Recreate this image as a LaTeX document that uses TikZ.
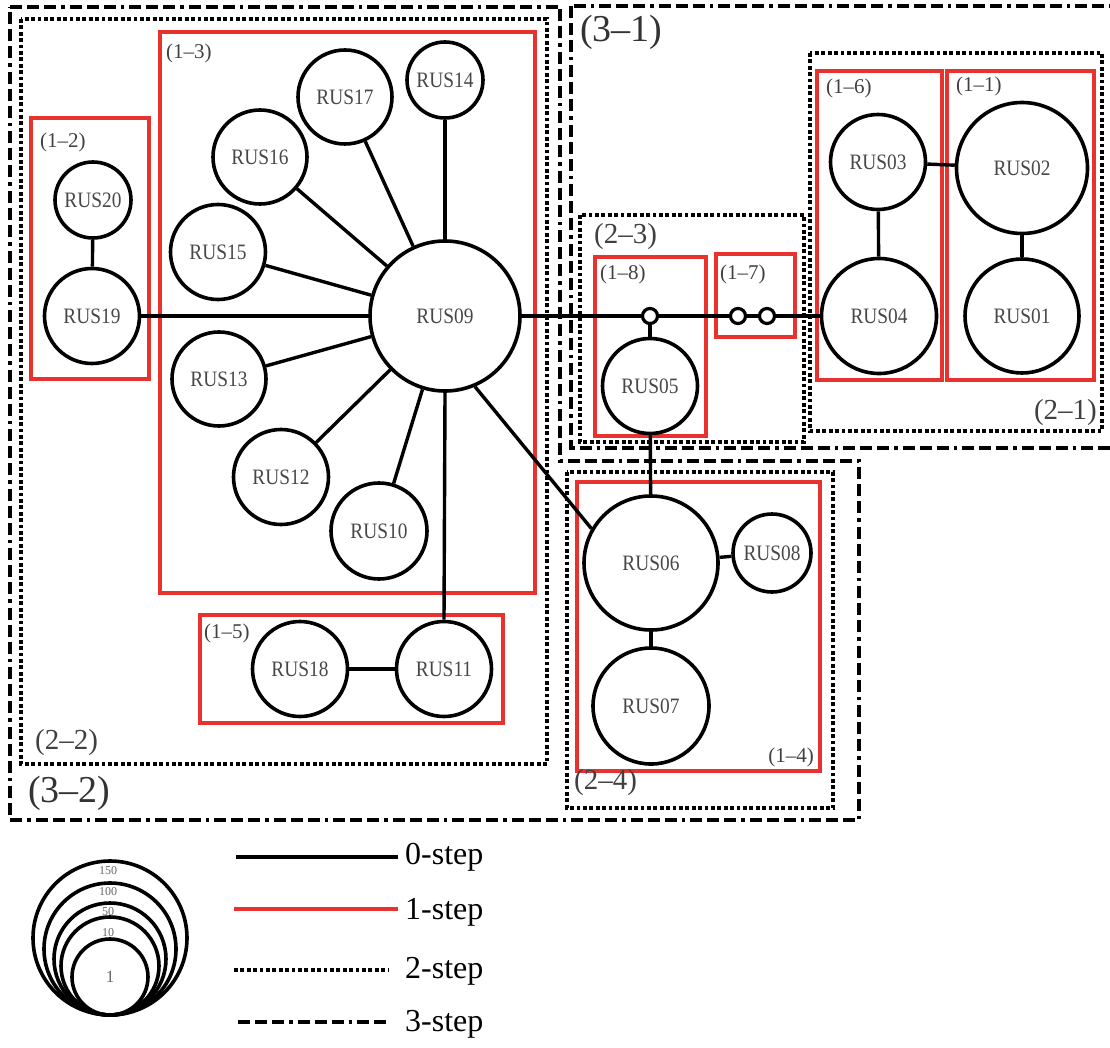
\documentclass[tikz,border=0pt]{standalone}
\usepackage{fontspec}
\setmainfont{Liberation Serif}
\newfontfamily\rusfont[FakeStretch=0.88]{Liberation Serif}
\definecolor{boxred}{RGB}{232,50,45}
\begin{document}
\begin{tikzpicture}[x=1pt,y=-1pt,
  rusnode/.style={circle,draw=black,line width=3.6pt,inner sep=0pt,text=black!72,
    font=\rusfont\fontsize{22}{22}\selectfont},
  junction/.style={circle,draw=black,line width=3.2pt,inner sep=0pt,minimum size=15pt},
  link/.style={draw=black,line width=3.4pt},
  onestep/.style={draw=boxred,line width=3.6pt},
  twostep/.style={draw=black,line width=3.3pt,dash pattern=on 3.8pt off 2.6pt},
  threestep/.style={draw=black,line width=4.4pt,dash pattern=on 12pt off 5pt on 12pt off 5pt on 12pt off 5pt on 3.5pt off 5pt},
  lblS/.style={inner sep=0pt,text=black!75,font=\fontsize{21}{21}\selectfont},
  lblM/.style={inner sep=0pt,text=black!75,font=\fontsize{29}{29}\selectfont},
  lblL/.style={inner sep=0pt,text=black!80,font=\fontsize{38}{38}\selectfont},
  legtext/.style={inner sep=0pt,anchor=west,text=black,font=\fontsize{32}{32}\selectfont},
  sizelbl/.style={inner sep=0pt,text=black!60,font=\fontsize{12}{12}\selectfont},
  legcircle/.style={draw=black,line width=3.6pt}
]
\useasboundingbox (0,0) rectangle (1110,1048);

% ---------- 3-step boxes ----------
\draw[threestep] (10,7) -- (560,7) -- (560,461) -- (859,461) -- (859,820) -- (10,820) -- cycle;
\draw[threestep] (571,6) rectangle (1118,448);
% ---------- 2-step boxes ----------
\draw[twostep] (21,19) rectangle (547,764);
\draw[twostep] (580,215) rectangle (804,442);
\draw[twostep] (810,53) rectangle (1102,431);
\draw[twostep] (567,472) rectangle (833,808);
% ---------- 1-step boxes ----------
\draw[onestep] (160,32) rectangle (535,593);
\draw[onestep] (31,118) rectangle (149,379);
\draw[onestep] (200,615) rectangle (503,723);
\draw[onestep] (595,257) rectangle (706,436);
\draw[onestep] (716,254) rectangle (795,337);
\draw[onestep] (817,71) rectangle (942,380);
\draw[onestep] (947,71) rectangle (1094,380);
\draw[onestep] (577,482) rectangle (820,771);

% ---------- group labels ----------
\node[lblS,anchor=west] (g13) at (166,53) {(1–3)};
\node[lblS,anchor=west] (g12) at (40,142) {(1–2)};
\node[lblS,anchor=west] (g15) at (204,633) {(1–5)};
\node[lblS,anchor=west] (g18) at (600,274) {(1–8)};
\node[lblS,anchor=west] (g17) at (720,274) {(1–7)};
\node[lblS,anchor=west] (g16) at (826,88) {(1–6)};
\node[lblS,anchor=west] (g11) at (956,86) {(1–1)};
\node[lblS,anchor=east] (g14) at (814,757) {(1–4)};
\node[lblM,anchor=west] (g22) at (35,743) {(2–2)};
\node[lblM,anchor=west] (g23) at (594,237) {(2–3)};
\node[lblM,anchor=east] (g21) at (1097,413) {(2–1)};
\node[lblM,anchor=west] (g24) at (574,783) {(2–4)};
\node[lblL,anchor=west] (g31) at (580,32) {(3–1)};
\node[lblL,anchor=west] (g32) at (28,793) {(3–2)};

% ---------- RUS nodes ----------
\node[rusnode,minimum size=76pt]  (RUS20) at (93,200)   {RUS20};
\node[rusnode,minimum size=95pt]  (RUS19) at (92,316)   {RUS19};
\node[rusnode,minimum size=94pt]  (RUS17) at (345,97)   {RUS17};
\node[rusnode,minimum size=76pt]  (RUS14) at (445,80)   {RUS14};
\node[rusnode,minimum size=94pt]  (RUS16) at (260,157)  {RUS16};
\node[rusnode,minimum size=95pt]  (RUS15) at (218,252)  {RUS15};
\node[rusnode,minimum size=150pt] (RUS09) at (445,316)  {RUS09};
\node[rusnode,minimum size=94pt]  (RUS13) at (219,379)  {RUS13};
\node[rusnode,minimum size=95pt]  (RUS12) at (281,477)  {RUS12};
\node[rusnode,minimum size=96pt]  (RUS10) at (379,531)  {RUS10};
\node[rusnode,minimum size=95pt]  (RUS18) at (300,669)  {RUS18};
\node[rusnode,minimum size=95pt]  (RUS11) at (444,669)  {RUS11};
\node[rusnode,minimum size=95pt]  (RUS05) at (650,386)  {RUS05};
\node[rusnode,minimum size=95pt]  (RUS03) at (878,162)  {RUS03};
\node[rusnode,minimum size=115pt] (RUS04) at (879,316)  {RUS04};
\node[rusnode,minimum size=131pt] (RUS02) at (1022,168) {RUS02};
\node[rusnode,minimum size=114pt] (RUS01) at (1022,316) {RUS01};
\node[rusnode,minimum size=134pt] (RUS06) at (651,563)  {RUS06};
\node[rusnode,minimum size=78pt]  (RUS08) at (772,553)  {RUS08};
\node[rusnode,minimum size=116pt] (RUS07) at (651,706)  {RUS07};
\node[junction] (J1) at (650,316) {};
\node[junction] (J2) at (738,316) {};
\node[junction] (J3) at (767,316) {};

% ---------- links ----------
\draw[link] (RUS20) -- (RUS19);
\draw[link] (RUS19) -- (RUS09);
\draw[link] (RUS09) -- (RUS14);
\draw[link] (RUS09) -- (RUS17);
\draw[link] (RUS09) -- (RUS16);
\draw[link] (RUS09) -- (RUS15);
\draw[link] (RUS09) -- (RUS13);
\draw[link] (RUS09) -- (RUS12);
\draw[link] (RUS09) -- (RUS10);
\draw[link] (RUS09.south) -- (RUS11.north);
\draw[link] (RUS18) -- (RUS11);
\draw[link] (RUS09.-67) -- (RUS06.150);
\draw[link] (RUS09) -- (J1);
\draw[link] (J1) -- (J2);
\draw[link] (J2) -- (J3);
\draw[link] (J3) -- (RUS04);
\draw[link] (J1) -- (RUS05);
\draw[link] (RUS05) -- (RUS06);
\draw[link] (RUS06) -- (RUS08);
\draw[link] (RUS06) -- (RUS07);
\draw[link] (RUS03) -- (RUS04);
\draw[link] (RUS03) -- (RUS02);
\draw[link] (RUS02) -- (RUS01);

% ---------- legend: size circles ----------
\draw[legcircle] (110,938) circle[radius=77pt];
\draw[legcircle] (110,949) circle[radius=66pt];
\draw[legcircle] (110,959) circle[radius=56pt];
\draw[legcircle] (110,966) circle[radius=49pt];
\draw[legcircle] (110,977) circle[radius=38pt];
\node[sizelbl] (s150) at (108,871) {150};
\node[sizelbl] (s100) at (108,892) {100};
\node[sizelbl] (s50)  at (108,912) {50};
\node[sizelbl] (s10)  at (108,933) {10};
\node[sizelbl,font=\fontsize{17}{17}\selectfont] (s1) at (110,977) {1};

% ---------- legend: line styles ----------
\coordinate (l0a) at (236,857);  \coordinate (l0b) at (398,857);
\coordinate (l1a) at (234,909);  \coordinate (l1b) at (398,909);
\coordinate (l2a) at (234,970);  \coordinate (l2b) at (388,970);
\coordinate (l3a) at (238,1022); \coordinate (l3b) at (388,1022);
\draw[link] (l0a) -- (l0b);
\draw[onestep] (l1a) -- (l1b);
\draw[twostep] (l2a) -- (l2b);
\draw[threestep] (l3a) -- (l3b);
\node[legtext] (t0) at (405,857)  {0-step};
\node[legtext] (t1) at (405,912)  {1-step};
\node[legtext] (t2) at (405,971)  {2-step};
\node[legtext] (t3) at (405,1024) {3-step};
\end{tikzpicture}
\end{document}
